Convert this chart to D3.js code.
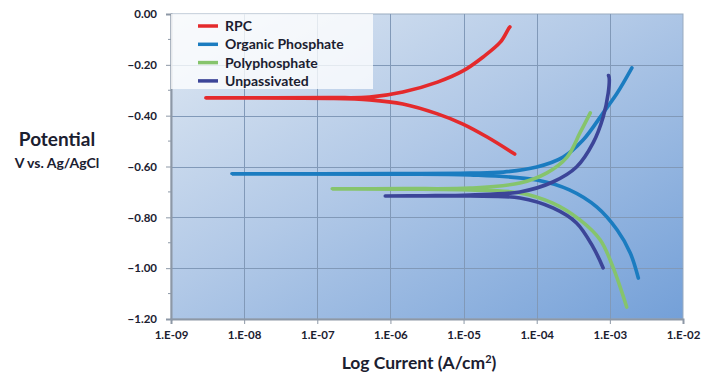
<!DOCTYPE html>
<html lang="en">
<head>
    <meta charset="UTF-8">
    <title>Polarization curves</title>
    <script type="text/javascript" src="https://cdn.jsdelivr.net/npm/d3@7/dist/d3.min.js"></script>
    <style>
        body{
            margin: 0;
            background: #fff;
        }
        text{
            font-family: Lato, "Open Sans", sans-serif;
            font-weight: bold;
            fill: #1b2030;
        }
        .grid line{
            stroke: #8199b8;
            stroke-width: 1;
            shape-rendering: crispEdges;
        }
        .curve{
            fill: none;
            stroke-width: 3.6;
            stroke-linecap: round;
            stroke-linejoin: round;
        }
    </style>
</head>
<body>
<svg id="chart" width="718" height="375"></svg>
<script type="text/javascript">
    // tick labels
    var xTicks = [1e-9, 1e-8, 1e-7, 1e-6, 1e-5, 1e-4, 1e-3, 1e-2];
    var xTickLabels = ["1.E-09","1.E-08","1.E-07","1.E-06","1.E-05","1.E-04","1.E-03","1.E-02"];
    var yTicks = [0, -0.2, -0.4, -0.6, -0.8, -1.0, -1.2];

    var seriesNames = ["RPC", "Organic Phosphate", "Polyphosphate", "Unpassivated"];
    var seriesColors = ["#e42a2c", "#1b7cc0", "#86c46c", "#3c4598"];

    // each curve: cathodic end -> corrosion point -> anodic end
    var rpcCurrent = [5.0e-5, 2.1e-5, 9.8e-6, 4.4e-6, 1.48e-6, 5.2e-7, 1.5e-7, 3.0e-9, 1.5e-7, 5.2e-7, 1.48e-6, 4.4e-6, 9.8e-6, 1.85e-5, 3.2e-5, 4.1e-5, 4.3e-5];
    var rpcPotential = [-0.551, -0.484, -0.433, -0.393, -0.354, -0.338, -0.332, -0.330, -0.329, -0.327, -0.307, -0.268, -0.224, -0.169, -0.110, -0.059, -0.051];

    var organicCurrent = [2.45e-3, 1.9e-3, 1.26e-3, 6.6e-4, 2.8e-4, 1.0e-4, 1.23e-5, 1.0e-6, 6.8e-9, 1.0e-6, 1.23e-5, 3.5e-5, 1.0e-4, 2.3e-4, 4.3e-4, 8.1e-4, 1.26e-3, 2.0e-3];
    var organicPotential = [-1.039, -0.940, -0.850, -0.759, -0.692, -0.653, -0.633, -0.630, -0.629, -0.628, -0.626, -0.622, -0.602, -0.563, -0.496, -0.389, -0.311, -0.212];

    var polyCurrent = [1.7e-3, 1.1e-3, 7.4e-4, 3.9e-4, 1.66e-4, 5.9e-5, 1.23e-5, 1.5e-6, 1.6e-7, 1.5e-6, 1.23e-5, 5.9e-5, 1.38e-4, 2.6e-4, 3.9e-4, 5.4e-4];
    var polyPotential = [-1.153, -0.995, -0.889, -0.810, -0.744, -0.704, -0.692, -0.689, -0.688, -0.687, -0.685, -0.665, -0.625, -0.563, -0.468, -0.389];

    var unpassCurrent = [8.1e-4, 5.9e-4, 3.5e-4, 1.66e-4, 5.9e-5, 1.23e-5, 3.0e-6, 8.5e-7, 3.0e-6, 1.23e-5, 5.9e-5, 1.66e-4, 3.5e-4, 5.9e-4, 8.1e-4, 9.5e-4, 9.8e-4, 9.6e-4];
    var unpassPotential = [-0.999, -0.917, -0.822, -0.763, -0.724, -0.716, -0.716, -0.716, -0.715, -0.712, -0.700, -0.661, -0.602, -0.507, -0.405, -0.311, -0.252, -0.242];

    var curves = [
        {name: seriesNames[0], color: seriesColors[0], x: rpcCurrent, y: rpcPotential},
        {name: seriesNames[1], color: seriesColors[1], x: organicCurrent, y: organicPotential},
        {name: seriesNames[2], color: seriesColors[2], x: polyCurrent, y: polyPotential},
        {name: seriesNames[3], color: seriesColors[3], x: unpassCurrent, y: unpassPotential}
    ];

    var plotL = 171, plotR = 683, plotT = 14, plotB = 319;
    var svg = d3.select("#chart");

    var x = d3.scaleLog().domain([1e-9, 1e-2]).range([plotL, plotR]);
    var y = d3.scaleLinear().domain([-1.2, 0]).range([plotB, plotT]);

    // plot background
    var defs = svg.append("defs");
    var grad = defs.append("linearGradient").attr("id", "bg")
        .attr("x1", "0%").attr("y1", "0%").attr("x2", "100%").attr("y2", "100%");
    grad.append("stop").attr("offset", "0%").attr("stop-color", "#dfe8f2");
    grad.append("stop").attr("offset", "45%").attr("stop-color", "#b2c9e7");
    grad.append("stop").attr("offset", "100%").attr("stop-color", "#74a0d8");

    svg.append("rect")
        .attr("x", plotL).attr("y", plotT)
        .attr("width", plotR - plotL).attr("height", plotB - plotT)
        .attr("fill", "url(#bg)")
        .attr("stroke", "#9aabbf").attr("stroke-width", 1);

    // gridlines
    var grid = svg.append("g").attr("class", "grid");
    grid.selectAll("line.v").data(xTicks.slice(1, -1)).enter().append("line")
        .attr("class", "v")
        .attr("x1", function(d){ return Math.round(x(d)) + 0.5; })
        .attr("x2", function(d){ return Math.round(x(d)) + 0.5; })
        .attr("y1", plotT).attr("y2", plotB);
    grid.selectAll("line.h").data(yTicks.slice(1, -1)).enter().append("line")
        .attr("class", "h")
        .attr("x1", plotL).attr("x2", plotR)
        .attr("y1", function(d){ return Math.round(y(d)) + 0.5; })
        .attr("y2", function(d){ return Math.round(y(d)) + 0.5; });

    // axes
    var xAxis = d3.axisBottom(x)
        .tickValues(xTicks)
        .tickFormat(function(d, i){ return xTickLabels[i]; })
        .tickSize(5).tickPadding(7);
    var gx = svg.append("g").attr("transform", "translate(0," + plotB + ")").call(xAxis);

    var yAxis = d3.axisLeft(y)
        .tickValues(yTicks)
        .tickFormat(d3.format(".2f"))
        .tickSize(5).tickPadding(9);
    var gy = svg.append("g").attr("transform", "translate(" + plotL + ",0)").call(yAxis);

    // minor y ticks
    svg.append("g").selectAll("line").data(d3.range(-11, 0, 2).map(function(v){ return v / 10; }))
        .enter().append("line")
        .attr("x1", plotL - 3).attr("x2", plotL)
        .attr("y1", function(d){ return y(d); }).attr("y2", function(d){ return y(d); })
        .attr("stroke", "#8d98a6").attr("stroke-width", 1);

    [gx, gy].forEach(function(g){
        g.select(".domain").attr("stroke", "#8d98a6").attr("stroke-width", 2);
        g.selectAll(".tick line").attr("stroke", "#8d98a6");
        g.selectAll(".tick text")
            .style("font-size", "11.5px")
            .style("font-family", "Lato, sans-serif")
            .style("font-weight", "bold")
            .attr("fill", "#222836");
    });

    // curves
    var line = d3.line()
        .x(function(d){ return x(d[0]); })
        .y(function(d){ return y(d[1]); })
        .curve(d3.curveCatmullRom.alpha(0.5));

    svg.append("g").selectAll("path").data(curves).enter().append("path")
        .attr("class", "curve")
        .attr("stroke", function(d){ return d.color; })
        .attr("d", function(d){ return line(d3.zip(d.x, d.y)); });

    // legend
    var legend = svg.append("g");
    legend.append("rect")
        .attr("x", plotL).attr("y", plotT)
        .attr("width", 202).attr("height", 75)
        .attr("fill", "#ffffff").attr("fill-opacity", 0.78);
    var items = legend.selectAll("g.item").data(curves).enter().append("g")
        .attr("class", "item")
        .attr("transform", function(d, i){ return "translate(0," + (26 + i * 18.3) + ")"; });
    items.append("line")
        .attr("x1", 198).attr("x2", 218)
        .attr("stroke", function(d){ return d.color; })
        .attr("stroke-width", 3.5);
    items.append("text")
        .attr("x", 225).attr("dy", "0.35em")
        .style("font-size", "14px")
        .text(function(d){ return d.name; });

    // axis titles
    svg.append("text").attr("x", 57).attr("y", 146)
        .attr("text-anchor", "middle")
        .style("font-size", "19px")
        .text("Potential");
    svg.append("text").attr("x", 57).attr("y", 168)
        .attr("text-anchor", "middle")
        .style("font-size", "14px")
        .text("V vs. Ag/AgCl");
    var xt = svg.append("text").attr("x", 419).attr("y", 369)
        .attr("text-anchor", "middle")
        .style("font-size", "17.5px");
    xt.append("tspan").text("Log Current (A/cm");
    xt.append("tspan").attr("dy", -6).style("font-size", "11px").text("2");
    xt.append("tspan").attr("dy", 6).text(")");
</script>
</body>
</html>
